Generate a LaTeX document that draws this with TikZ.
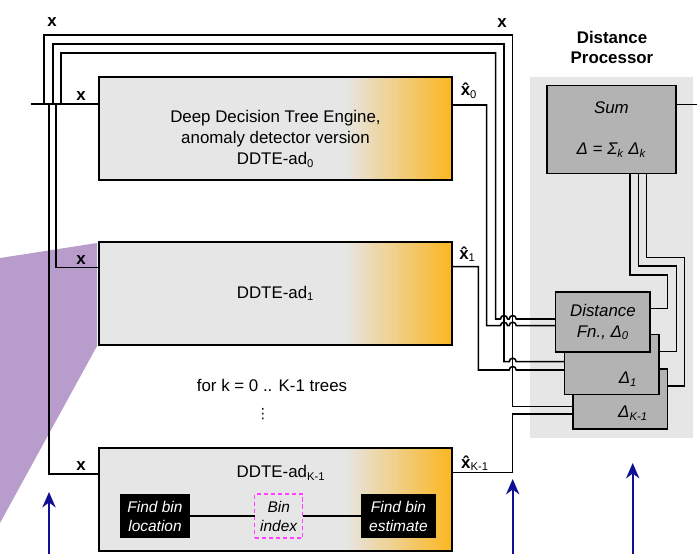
\documentclass[tikz,border=0pt]{standalone}
\usepackage{fontspec}
\setmainfont{Liberation Sans}
\newfontfamily\symfont{DejaVu Sans}
\usetikzlibrary{arrows.meta}
\definecolor{boxgray}{RGB}{230,230,230}
\definecolor{ddteorange}{RGB}{251,183,38}
\definecolor{fngray}{RGB}{179,179,179}
\definecolor{calloutpurple}{RGB}{184,156,203}
\definecolor{arrowblue}{RGB}{16,16,150}
\definecolor{binpink}{RGB}{255,64,255}
\newcommand{\xhat}{\textbf{\rlap{x}\makebox[0.556em][c]{ˆ}}}
\tikzset{
    engine/.style={draw,fill=boxgray,minimum width=8.825cm,minimum height=2.575cm,inner sep=0pt,outer sep=0pt,
        path picture={\foreach \i in {0,...,21}{\pgfmathsetmacro\pct{100*\i/21}
            \fill[ddteorange!\pct!boxgray] ([xshift={-2.75cm+\i*0.125cm}]path picture bounding box.north east)
                rectangle ([xshift={-2.75cm+(\i+1)*0.125cm+0.02cm}]path picture bounding box.south east);}}},
    fnbox/.style={draw,fill=fngray,minimum width=2.36cm,minimum height=1.5cm,outer sep=0pt,font=\itshape},
    binbox/.style={font=\fontsize{11}{13.5}\selectfont\itshape,align=center,minimum height=1.1cm,inner sep=0pt,outer sep=0pt},
    blackbox/.style={binbox,fill=black,text=white},
    lbl/.style={font=\bfseries,inner sep=0pt},
    upline/.style={draw=arrowblue,line width=1.3pt,-{Stealth[length=11pt,width=9.5pt]}}
}
\begin{document}
\fontsize{12}{15}\selectfont
\begin{tikzpicture}[x=0.025cm,y=-0.025cm,line width=1.1pt]
                \useasboundingbox (0,0) rectangle (697,554);
                \fill[calloutpurple] (0,258) -- (97,243) -- (97,346) -- (0,523) -- cycle;
                \node[fill=boxgray,minimum width=4.075cm,minimum height=9.025cm] (proc) at (611.5,257.5) {};
                \node[align=center,font=\fontsize{12}{14.2}\selectfont\bfseries] (proct) at (612,47) {Distance\\Processor};
                \node[engine] (eng0) at (275.5,128.5) {};
                \node[align=center] (eng0t) at (275.5,139) {Deep Decision Tree Engine,\\anomaly detector version\\DDTE-ad\textsubscript{0}};
                \node[engine] (eng1) at (275.5,293.5) {DDTE-ad\textsubscript{1}};
                \node[engine] (engK) at (275.5,499.5) {};
                \node (engKt) at (281,473) {DDTE-ad\textsubscript{K-1}};
                \node[blackbox,minimum width=1.75cm] (findloc) at (155,516) {Find bin\\location};
                \node[binbox,draw=binpink,line width=1pt,dash pattern=on 3pt off 2pt,minimum width=1.2cm] (binidx) at (278.7,516) {Bin\\index};
                \node[blackbox,minimum width=1.87cm] (findest) at (398.4,516) {Find bin\\estimate};
                \draw (findloc) -- (binidx) -- (findest);
                \node (loop) at (272,385) {for k = 0 .. K-1 trees};
                \node[font=\symfont\fontsize{10}{12}\selectfont] (dots) at (263,414) {⋮};
                \node[fnbox,minimum width=3.23cm,minimum height=2.19cm,align=center] (sum) at (611.4,129.5) {Sum\\[14pt]Δ = Σ\textsubscript{k} Δ\textsubscript{k}};
                \node[fnbox] (DK) at (620.2,399.2) {};
                \node[fnbox] (D1) at (611.7,364.7) {};
                \node[fnbox,align=center] (D0) at (602.9,321.9) {Distance\\Fn., Δ\textsubscript{0}};
                \node[font=\itshape] (D1t) at (628,379) {Δ\textsubscript{1}};
                \node[font=\itshape] (DKt) at (633,413) {Δ\textsubscript{K-1}};
                \coordinate (xin) at (31,104);
                \coordinate (b1) at (44,104);
                \coordinate (b2) at (53,104);
                \coordinate (b3) at (61,104);
                \coordinate (b4) at (56,104);
                \coordinate (b5) at (49,104);
                \draw (xin) -- (eng0.west |- xin);
                \draw (b1) |- (512.7,35) |- (DK.west |- 0,406.7);
                \draw (b2) |- (504,44) |- (509.2,361.7) arc[start angle=180,end angle=0,radius=2.5pt] -- (D1.west |- 0,361.7);
                \draw (b3) |- (495.7,53) |- (500.5,319) arc[start angle=180,end angle=0,radius=2.5pt] -- (509.2,319) arc[start angle=180,end angle=0,radius=2.5pt] -- (D0.west |- 0,319);
                \draw (b4) |- (eng1.west |- 0,267.7);
                \draw (b5) |- (engK.west |- 0,474);
                \draw (eng0.east |- 0,105) -| (486.7,325.7) -- (500.5,325.7) arc[start angle=180,end angle=0,radius=2.5pt] -- (509.2,325.7) arc[start angle=180,end angle=0,radius=2.5pt] -- (D0.west |- 0,325.7);
                \draw (eng1.east |- 0,266.7) -| (478.3,370) -- (509.2,370) arc[start angle=180,end angle=0,radius=2.5pt] -- (D1.west |- 0,370);
                \draw (engK.east |- 0,472.3) -| (512.3,414) -- (DK.west |- 0,414);
                \draw (D0.east |- 0,308.3) -| (667.7,275) -| (sum.south -| 630,0);
                \draw (D1.east |- 0,351.7) -| (676.3,266) -| (sum.south -| 638.7,0);
                \draw (DK.east |- 0,386) -| (684.7,257.3) -| (sum.south -| 646.7,0);
                \coordinate (sumout) at (697,104.3);
                \draw (sum.east |- sumout) -- (sumout);
                \node[lbl] (xl0) at (52,22) {x};
                \node[lbl] (xl1) at (502,23) {x};
                \node[lbl] (xl2) at (81,96) {x};
                \node[lbl] (xl3) at (81,260) {x};
                \node[lbl] (xl4) at (81,466) {x};
                \node[inner sep=0pt] (xh0) at (469,91) {\xhat\textsubscript{0}};
                \node[inner sep=0pt] (xh1) at (467.5,254) {\xhat\textsubscript{1}};
                \node[inner sep=0pt] (xhK) at (475,463) {\xhat\textsubscript{K-1}};
                \coordinate (a1s) at (49,554);
                \coordinate (a1e) at (49,492);
                \coordinate (a2s) at (512.7,554);
                \coordinate (a2e) at (512.7,479);
                \coordinate (a3s) at (632.7,554);
                \coordinate (a3e) at (632.7,463);
                \draw[upline] (a1s) -- (a1e);
                \draw[upline] (a2s) -- (a2e);
                \draw[upline] (a3s) -- (a3e);
            \end{tikzpicture}
\end{document}
